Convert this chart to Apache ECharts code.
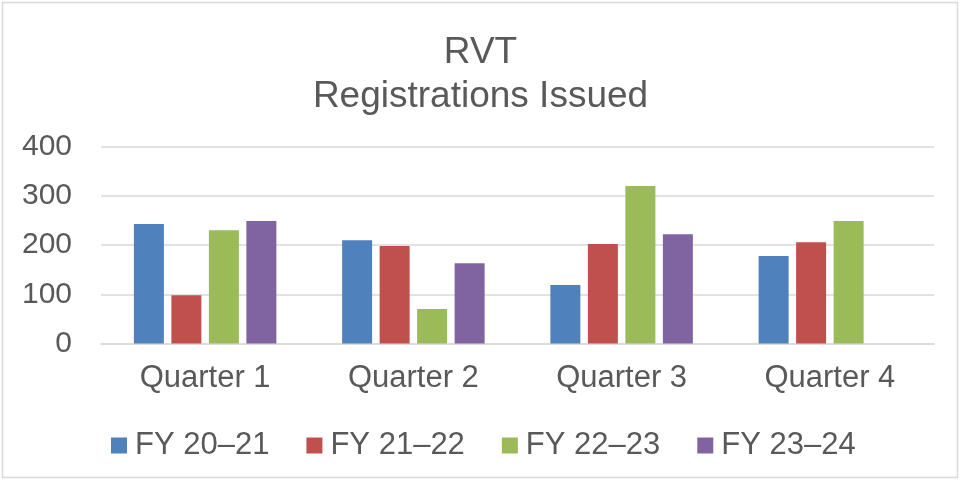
<!DOCTYPE html>
<html>
<head>
<meta charset="utf-8">
<script src="https://cdn.jsdelivr.net/npm/echarts@6/dist/echarts.min.js"></script>
<style>
html,body{margin:0;padding:0;background:#fff;}
#c{width:961px;height:481px;}
</style>
</head>
<body>
<div id="c"></div>
<script>
const categories = ['Quarter 1', 'Quarter 2', 'Quarter 3', 'Quarter 4'];
const seriesNames = ['FY 20\u201321', 'FY 21\u201322', 'FY 22\u201323', 'FY 23\u201324'];
const fy2021 = [243, 210, 119, 178];
const fy2122 = [98, 198, 202, 206];
const fy2223 = [230, 70, 320, 249];
const fy2324 = [249, 163, 222, null];
const yTicks = [0, 100, 200, 300, 400];
const colors = ['#4f81bd', '#c0504d', '#9bbb59', '#8064a2'];

const values = [fy2021, fy2122, fy2223, fy2324];
const font = '"Liberation Sans", Arial, sans-serif';
const chart = echarts.init(document.getElementById('c'));
chart.setOption({
  animation: false,
  textStyle: { fontFamily: font },
  graphic: [{
    type: 'rect',
    shape: { x: 2.5, y: 2.5, width: 955, height: 475 },
    style: { fill: 'none', stroke: '#d9d9d9', lineWidth: 1.5 },
    silent: true
  }],
  title: {
    text: 'RVT\nRegistrations Issued',
    left: 'center',
    top: 26,
    textStyle: { fontFamily: font, fontSize: 37, fontWeight: 'normal', color: '#595959', lineHeight: 44 }
  },
  legend: {
    data: seriesNames,
    left: 106,
    top: 425,
    itemWidth: 16,
    itemHeight: 16,
    itemGap: 37,
    icon: 'rect',
    textStyle: { fontFamily: font, fontSize: 31, color: '#595959', padding: [0, 0, 0, 3] }
  },
  grid: { left: 101, right: 27, top: 146.7, bottom: 137.5, containLabel: false },
  xAxis: {
    type: 'category',
    data: categories,
    axisTick: { show: false },
    axisLine: { lineStyle: { color: '#d9d9d9', width: 1.5 } },
    axisLabel: { fontFamily: font, fontSize: 31, color: '#595959', margin: 19 }
  },
  yAxis: {
    type: 'value',
    min: yTicks[0],
    max: yTicks[yTicks.length - 1],
    interval: 100,
    axisLine: { show: false },
    axisTick: { show: false },
    splitLine: { lineStyle: { color: '#d9d9d9', width: 1.5 } },
    axisLabel: { fontFamily: font, fontSize: 30, color: '#595959', margin: 29 }
  },
  series: seriesNames.map((n, i) => ({
    name: n,
    type: 'bar',
    data: values[i],
    barWidth: 30,
    barGap: '25%',
    itemStyle: { color: colors[i] }
  }))
});
</script>
</body>
</html>
